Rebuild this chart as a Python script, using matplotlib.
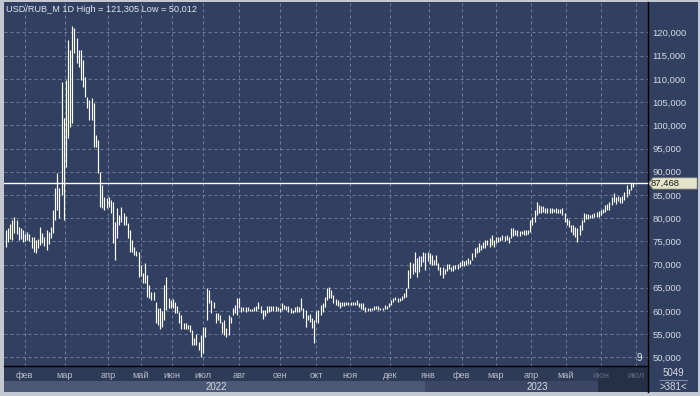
import matplotlib
matplotlib.use("Agg")
import matplotlib.pyplot as plt
from matplotlib.patches import Rectangle, Polygon
from matplotlib.lines import Line2D
from matplotlib.ticker import FuncFormatter

# ---------------- data ----------------
title = "USD/RUB_M 1D High = 121,305 Low = 50,012"
symbol_count_top = "5049"
symbol_count_bottom = ">381<"
last_price = 87.468

highs = [
    77.4, 77.9, 78.8, 79.6, 80.3, 79.5, 78.0, 77.8, 77.5, 76.5, 77.0, 76.6, 75.9, 75.9, 75.2, 75.5,
    78.0, 76.8, 76.0, 77.4, 77.0, 78.0, 81.8, 86.5, 89.8, 86.5,
    109.3, 101.6, 109.7, 118.4, 116.2, 121.305, 121.0, 118.8, 116.2, 116.2, 114.0, 110.4, 106.1, 105.5,
    105.9, 104.8, 97.9, 96.8, 90.0, 87.2, 84.6, 84.3, 84.6, 84.0, 83.5, 79.2, 82.2, 80.7, 82.4, 81.0,
    80.5, 79.0, 77.4, 75.2, 73.7, 73.0, 72.7, 70.0, 68.1, 70.3, 67.7, 65.6, 64.1, 64.0, 61.9, 60.6,
    60.6, 60.0, 65.6, 67.3, 62.8, 62.4, 62.6, 61.9, 61.0, 59.8, 59.1, 57.4, 57.4, 57.0, 57.0, 55.9,
    54.1, 55.0, 53.3, 54.8, 56.5, 56.5, 65.0, 64.5, 62.4, 62.0, 59.6, 59.6, 59.1, 57.6, 58.1, 56.3,
    59.1, 58.7, 60.6, 61.3, 62.8, 62.8, 60.8, 60.8, 60.8, 60.8, 60.4, 60.5, 60.8, 61.0, 62.0, 61.0,
    60.2, 60.2, 61.0, 61.0, 61.0, 61.0, 61.0, 60.8, 60.6, 61.7, 61.3, 61.0, 61.0, 60.6, 60.2, 60.8,
    61.0, 60.8, 62.8, 60.6, 60.2, 59.1, 59.4, 58.5, 58.1, 60.0, 60.2, 61.3, 61.7, 63.0, 65.0, 65.2,
    64.5, 63.4, 62.6, 62.4, 61.9, 62.0, 62.0, 62.0, 62.0, 62.0, 62.0, 62.0, 62.4, 61.8, 61.7, 61.7,
    60.8, 60.7, 60.7, 60.7, 61.0, 61.0, 61.0, 60.7, 60.7, 61.3, 61.0, 61.7, 62.4, 62.8, 63.0, 62.8,
    62.8, 63.2, 63.8, 65.0, 68.8, 70.5, 70.3, 72.7, 71.3, 71.8, 71.8, 72.7, 72.5, 72.7, 72.5, 72.0,
    71.0, 72.0, 70.3, 69.4, 69.4, 69.0, 70.1, 70.1, 69.4, 69.8, 69.8, 70.1, 70.5, 71.0, 70.7, 71.0,
    71.3, 71.0, 72.5, 73.6, 73.8, 74.6, 74.2, 74.8, 75.2, 75.2, 75.7, 76.3, 75.2, 75.9, 75.9, 75.9,
    76.3, 76.1, 76.3, 75.9, 77.9, 77.9, 77.4, 77.4, 77.2, 77.2, 77.4, 77.4, 77.4, 79.6, 80.3, 81.8,
    83.5, 82.8, 82.6, 82.6, 82.2, 82.2, 82.2, 82.2, 82.0, 82.2, 81.9, 82.0, 82.2, 81.1, 80.0, 79.6,
    78.5, 78.5, 78.1, 77.9, 78.5, 79.6, 81.1, 80.9, 80.9, 80.7, 80.9, 81.1, 81.3, 81.6, 81.8, 82.0,
    82.8, 83.1, 83.5, 84.6, 85.4, 84.6, 84.8, 84.6, 84.8, 85.7, 87.1, 86.3, 87.6, 87.6,
]
lows = [
    73.7, 74.8, 75.5, 75.2, 76.8, 76.5, 75.2, 75.5, 74.8, 75.0, 75.2, 75.0, 73.5, 72.7, 72.4, 73.5,
    74.2, 74.6, 74.0, 73.2, 74.5, 75.7, 76.8, 79.6, 81.8, 80.0,
    85.0, 79.6, 91.0, 97.3, 99.6, 100.5, 115.6, 113.4, 112.6, 109.8, 108.3, 106.1, 103.7, 101.2,
    101.2, 95.3, 95.3, 89.8, 82.4, 82.2, 81.8, 82.2, 82.4, 81.1, 74.6, 71.0, 75.7, 78.5, 79.2, 78.5,
    78.5, 75.7, 72.7, 72.7, 72.0, 71.8, 67.3, 67.5, 66.0, 66.0, 63.0, 62.8, 62.4, 62.4, 57.4, 56.9,
    56.0, 56.5, 58.1, 60.2, 60.6, 60.6, 60.6, 59.6, 59.6, 57.4, 56.0, 56.0, 56.0, 56.0, 55.5, 52.7,
    52.7, 52.7, 51.6, 50.012, 50.9, 54.4, 58.1, 61.7, 59.6, 60.6, 57.4, 58.1, 57.4, 55.2, 54.8, 54.4,
    54.8, 57.4, 59.1, 59.6, 59.1, 60.6, 59.8, 60.0, 59.8, 60.0, 60.0, 60.0, 60.0, 60.0, 60.4, 59.6,
    58.3, 58.8, 59.6, 59.8, 59.9, 60.0, 60.0, 59.9, 59.8, 60.2, 60.4, 60.2, 59.8, 59.6, 59.6, 59.8,
    59.8, 59.8, 60.2, 58.5, 56.5, 58.1, 57.6, 56.3, 53.1, 57.6, 57.4, 59.1, 59.8, 60.8, 62.4, 62.8,
    62.8, 61.7, 61.3, 61.0, 60.6, 61.0, 61.0, 61.2, 61.3, 61.2, 61.3, 61.3, 61.3, 60.8, 60.4, 60.2,
    59.8, 60.0, 60.0, 60.2, 60.2, 60.4, 60.2, 60.2, 60.2, 60.4, 60.4, 60.8, 61.3, 62.0, 62.4, 62.0,
    62.2, 62.4, 62.8, 63.0, 65.0, 67.1, 68.0, 68.3, 67.3, 68.3, 69.6, 70.5, 68.8, 70.8, 70.1, 70.0,
    70.0, 69.8, 68.8, 67.7, 67.1, 67.9, 68.6, 69.0, 68.6, 68.6, 69.0, 69.0, 69.4, 69.6, 69.6, 69.8,
    70.1, 70.1, 71.0, 71.6, 72.5, 72.7, 73.1, 73.6, 73.6, 74.2, 73.8, 74.2, 73.8, 74.6, 74.8, 75.0,
    75.2, 75.0, 75.2, 74.6, 75.7, 76.1, 76.3, 76.1, 76.1, 76.5, 76.3, 76.3, 76.5, 77.0, 78.5, 79.2,
    80.7, 81.0, 81.1, 81.3, 81.1, 81.1, 81.1, 81.1, 81.3, 81.1, 81.1, 81.1, 80.7, 79.2, 78.5, 78.1,
    77.0, 76.3, 75.9, 74.8, 76.3, 77.4, 79.2, 79.8, 79.8, 80.0, 80.0, 80.2, 80.2, 80.2, 80.7, 81.1,
    81.3, 81.8, 81.8, 82.8, 83.5, 83.1, 83.7, 83.3, 83.3, 83.9, 84.6, 85.2, 86.1, 86.8,
]
price_ticks = [50, 55, 60, 65, 70, 75, 80, 85, 90, 95, 100, 105, 110, 115, 120]
month_labels = ["фев", "мар", "апр", "май", "июн", "июл", "авг", "сен", "окт", "ноя", "дек",
                "янв", "фев", "мар", "апр", "май", "июн", "июл"]
month_pos = [8.8, 27.5, 47.7, 63, 77.5, 92, 109, 128, 145, 160.7, 179.5,
             197.5, 213, 229, 245.5, 261.5, 278, 294.5]
year_labels = ["2022", "2023"]

# ---------------- style ----------------
W, H = 700, 396
BG = "#314060"
FRAME = "#c4c8d0"
GRID = "#6e7d9c"
TXT = "#d6dae3"
FONT = "Liberation Sans"

plt.rcParams["font.family"] = [FONT, "DejaVu Sans"]

fig = plt.figure(figsize=(W / 100, H / 100), dpi=100, facecolor=FRAME)


def fx(x):
    return x / W


def fy(y):
    return 1 - y / H


def rect(x0, y0, x1, y1, color, z=-5):
    fig.add_artist(Rectangle((fx(x0), fy(y1)), fx(x1) - fx(x0), fy(y0) - fy(y1),
                             transform=fig.transFigure, facecolor=color,
                             edgecolor="none", zorder=z))


# background panels
rect(4, 2, 698, 366, BG)                 # price panel + plot
rect(4, 366, 598, 381, "#2e3b56")        # month row
rect(4, 381, 425, 392, "#4b5876")        # year row (light part)
rect(425, 381, 598, 392, "#3b4764")      # year row (dark part)
rect(598, 366, 648, 392, "#253046")      # dark block
rect(648, 366, 698, 392, BG)             # counter box

ax = fig.add_axes([fx(4), fy(366), fx(648) - fx(4), fy(2) - fy(366)])
ax.set_facecolor(BG)
ax.patch.set_alpha(0)

idx = list(range(len(highs)))
ax.vlines(idx, lows, highs, colors="white", linewidth=0.85, zorder=3)
ax.axhline(last_price, color="white", linewidth=1.0, zorder=4)

ax.set_xlim(-0.9, 300)
ax.set_ylim(48.13, 126.57)

ax.set_yticks(price_ticks)
ax.yaxis.set_major_formatter(FuncFormatter(lambda v, p: f"{v:.3f}".replace(".", ",")))
ax.yaxis.tick_right()
ax.tick_params(axis="y", length=0, pad=3.2, labelsize=6.8, labelcolor=TXT)

ax.set_xticks(month_pos)
ax.set_xticklabels(month_labels)
ax.tick_params(axis="x", length=0, pad=3.5, labelsize=6.6, labelcolor="#b9bfcc")
for lab in ax.get_xticklabels()[-2:]:
    lab.set_color("#5f6b84")

ax.grid(True, color=GRID, linestyle=(0, (3, 3)), linewidth=0.72, zorder=1)
ax.set_axisbelow(True)

for s in ["top", "left"]:
    ax.spines[s].set_visible(False)
for s in ["right", "bottom"]:
    ax.spines[s].set_color("black")
    ax.spines[s].set_linewidth(1.0)

# vertical divider through bottom rows
fig.add_artist(Line2D([fx(648), fx(648)], [fy(366), fy(392)], color="black",
                      linewidth=1.0, transform=fig.transFigure))

# title
fig.text(fx(6), fy(9), title, fontsize=6.6, color="#e2e6ee", va="center", ha="left")

# year labels
fig.text(fx(216), fy(386.5), year_labels[0], fontsize=7, color=TXT, ha="center", va="center")
fig.text(fx(537), fy(386.5), year_labels[1], fontsize=7, color=TXT, ha="center", va="center")

# counter box
fig.text(fx(673), fy(373.5), symbol_count_top, fontsize=7, color=TXT, ha="center", va="center")
fig.add_artist(Line2D([fx(660), fx(687)], [fy(380), fy(380)], color="#7f8aa2",
                      linewidth=0.8, transform=fig.transFigure))
fig.text(fx(673), fy(386.5), symbol_count_bottom, fontsize=7, color=TXT, ha="center", va="center")

# small marker text
fig.text(fx(639), fy(358), "9", fontsize=7, color="#e8ecf2", ha="center", va="center")

# price tag
py = fig.transFigure.inverted().transform(ax.transData.transform((0, last_price)))[1]
ph = 5.5 / H
tag = Polygon([(fx(649), py), (fx(653), py + ph), (fx(697), py + ph),
               (fx(697), py - ph), (fx(653), py - ph)], closed=True,
              transform=fig.transFigure, facecolor="#e4e4c8", edgecolor="#a9ab96",
              linewidth=0.6, zorder=6)
fig.add_artist(tag)
fig.text(fx(651), py, f"{last_price:.3f}".replace(".", ","), fontsize=6.8, color="#1c1c1c",
         ha="left", va="center", zorder=7)

fig.savefig("out.png", dpi=100, facecolor=FRAME)
